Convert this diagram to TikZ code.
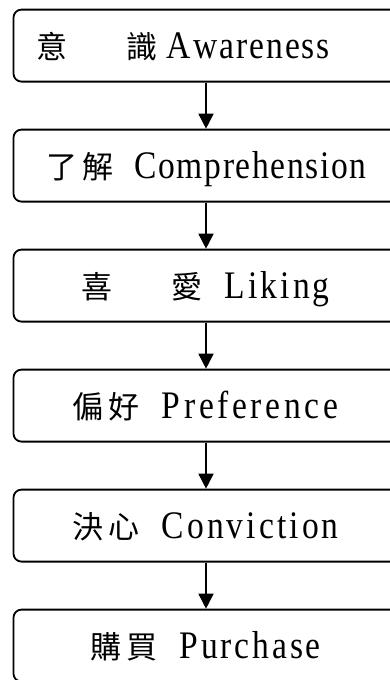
\documentclass[tikz,border=0pt]{standalone}
\usepackage{fontspec}
\usepackage{graphicx}
\usetikzlibrary{arrows.meta}
\setmainfont{Liberation Serif}
\newfontfamily\cjkf{Noto Sans CJK TC}

% Latin words: condensed letters, evenly tracked so each letter takes 18pt on average
\newlength\wordw
\newlength\gapw
\newcount\nch
\def\latscale{0.86}
\def\countloop#1{\ifx\relax#1\else\advance\nch by 1 \expandafter\countloop\fi}
\def\spaceloop#1{\ifx\relax#1\else\scalebox{\latscale}[1]{#1}\hspace{\gapw}\expandafter\spaceloop\fi}
\newcommand\latw[1]{{\rmfamily\fontsize{39pt}{42pt}\selectfont
  \nch=0 \countloop#1\relax
  \settowidth\wordw{\scalebox{\latscale}[1]{#1}}%
  \gapw=\dimexpr(18pt*\nch-\wordw)/\nch\relax
  \hspace{0.5\gapw}\spaceloop#1\relax\hspace{-0.5\gapw}}}
% Han characters in full-width 36pt cells
\def\fullloop#1{\ifx\relax#1\else\makebox[36pt]{#1}\expandafter\fullloop\fi}
\newcommand\hanw[1]{{\cjkf\fontsize{31pt}{40pt}\selectfont\fullloop#1\relax}}

\tikzset{
  stagebox/.style={draw, line width=1.8pt, rounded corners=8pt,
    minimum width=385pt, minimum height=72pt, inner sep=0pt,
    text height=30pt, text depth=5.2pt},
  flowarrow/.style={line width=1.6pt, -{Triangle[width=15pt,length=15pt]}}
}

\begin{document}
\begin{tikzpicture}[x=1pt,y=-1pt]
  \fill[white] (0,0) rectangle (390,680);
  \useasboundingbox (0,0) rectangle (390,680);
  \clip (0,0) rectangle (390,680);

  \node[stagebox] (s1) at (206,45.6)
    {\hanw{意}\hspace{54pt}\hanw{識}\hspace{6pt}\latw{Awareness}\kern47pt};
  \node[stagebox] (s2) at (206,165.6)
    {\hanw{了解}\hspace{18pt}\latw{Comprehension}};
  \node[stagebox] (s3) at (206,285.6)
    {\hanw{喜}\hspace{54pt}\hanw{愛}\hspace{18pt}\latw{Liking}};
  \node[stagebox] (s4) at (206,405.6)
    {\hanw{偏好}\hspace{18pt}\latw{Preference}};
  \node[stagebox] (s5) at (206,525.6)
    {\hanw{決心}\hspace{18pt}\latw{Conviction}};
  \node[stagebox] (s6) at (206,645.6)
    {\hanw{購買}\hspace{18pt}\latw{Purchase}};

  \draw[flowarrow] (s1.south) -- (s2.north);
  \draw[flowarrow] (s2.south) -- (s3.north);
  \draw[flowarrow] (s3.south) -- (s4.north);
  \draw[flowarrow] (s4.south) -- (s5.north);
  \draw[flowarrow] (s5.south) -- (s6.north);
\end{tikzpicture}
\end{document}
